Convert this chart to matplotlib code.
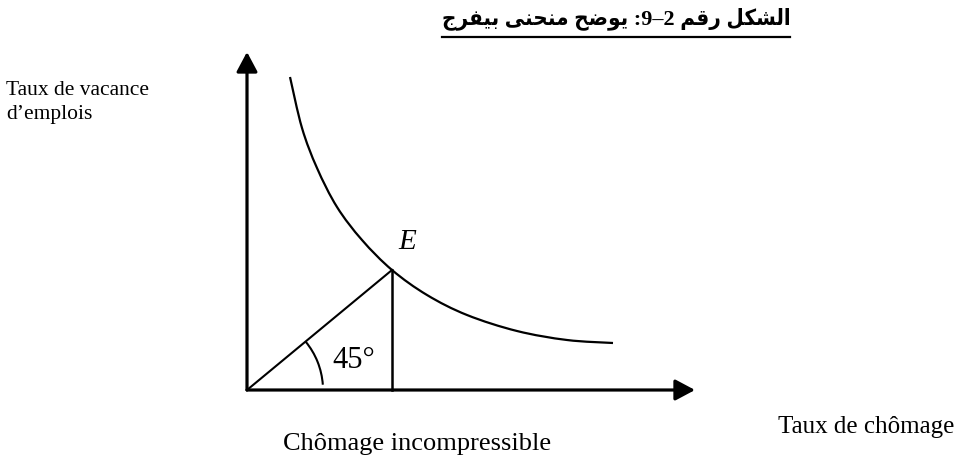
import matplotlib
matplotlib.use("Agg")
import matplotlib.pyplot as plt
from matplotlib.path import Path
from matplotlib.patches import PathPatch, Arc
from matplotlib.lines import Line2D

# Beveridge curve, points (x = unemployment, y = vacancies)
curve_x = [43, 55, 70, 90, 115, 145, 180, 220, 270, 320, 366]
curve_y = [313, 262, 222, 183, 150, 120, 95, 75, 59, 50, 47]
E_point = (145, 120)
x_axis_end = 448
y_axis_end = 338
arc_radius = 76

title_words = ["الشكل", "رقم", "2–9:", "يوضح", "منحنى", "بيفرج"]
ylabel_lines = ["Taux de vacance", "d’emplois"]
xlabel = "Taux de chômage"
foot_label = "Chômage incompressible"
angle_label = "45°"

# presentation forms: iso, fin, ini, med (right-joining letters have only iso, fin)
forms = {
    "ا": ("\uFE8D", "\uFE8E"),
    "ر": ("\uFEAD", "\uFEAE"),
    "و": ("\uFEED", "\uFEEE"),
    "ى": ("\uFEEF", "\uFEF0"),
    "ل": ("\uFEDD", "\uFEDE", "\uFEDF", "\uFEE0"),
    "ش": ("\uFEB5", "\uFEB6", "\uFEB7", "\uFEB8"),
    "ك": ("\uFED9", "\uFEDA", "\uFEDB", "\uFEDC"),
    "ق": ("\uFED5", "\uFED6", "\uFED7", "\uFED8"),
    "م": ("\uFEE1", "\uFEE2", "\uFEE3", "\uFEE4"),
    "ي": ("\uFEF1", "\uFEF2", "\uFEF3", "\uFEF4"),
    "ض": ("\uFEBD", "\uFEBE", "\uFEBF", "\uFEC0"),
    "ح": ("\uFEA1", "\uFEA2", "\uFEA3", "\uFEA4"),
    "ن": ("\uFEE5", "\uFEE6", "\uFEE7", "\uFEE8"),
    "ب": ("\uFE8F", "\uFE90", "\uFE91", "\uFE92"),
    "ف": ("\uFED1", "\uFED2", "\uFED3", "\uFED4"),
    "ج": ("\uFE9D", "\uFE9E", "\uFE9F", "\uFEA0"),
}


def shape(word):
    out = []
    for i, ch in enumerate(word):
        if ch not in forms:
            out.append(ch)
            continue
        f = forms[ch]
        prev = i > 0 and word[i - 1] in forms and len(forms[word[i - 1]]) == 4
        nxt = len(f) == 4 and i < len(word) - 1 and word[i + 1] in forms
        if prev and nxt:
            out.append(f[3])
        elif nxt:
            out.append(f[2])
        elif prev:
            out.append(f[1])
        else:
            out.append(f[0])
    return "".join(reversed(out))


title = " ".join(shape(w) for w in reversed(title_words))

fig = plt.figure(figsize=(9.69, 4.59), dpi=100)
ax = fig.add_axes([0, 0, 1, 1])
ax.set_xlim(-247, 722)
ax.set_ylim(-69, 390)
ax.axis("off")

serif = ["Liberation Serif", "DejaVu Serif"]

# axes with arrows
arr = dict(arrowstyle="-|>,head_length=0.6,head_width=0.32", lw=2.3,
           color="black", mutation_scale=20, shrinkA=0, shrinkB=0)
ax.annotate("", xy=(0, y_axis_end), xytext=(0, 0), arrowprops=arr)
ax.annotate("", xy=(x_axis_end, 0), xytext=(0, 0), arrowprops=arr)

# smooth curve through the read points (Catmull-Rom -> Bezier)
pts = list(zip(curve_x, curve_y))
verts = [pts[0]]
codes = [Path.MOVETO]
for i in range(len(pts) - 1):
    p0 = pts[i - 1] if i > 0 else pts[i]
    p1 = pts[i]
    p2 = pts[i + 1]
    p3 = pts[i + 2] if i + 2 < len(pts) else pts[i + 1]
    c1 = (p1[0] + (p2[0] - p0[0]) / 6, p1[1] + (p2[1] - p0[1]) / 6)
    c2 = (p2[0] - (p3[0] - p1[0]) / 6, p2[1] - (p3[1] - p1[1]) / 6)
    verts += [c1, c2, p2]
    codes += [Path.CURVE4] * 3
ax.add_patch(PathPatch(Path(verts, codes), fill=False, lw=1.6, color="black"))

# 45 degree line and vertical drop from E
ax.plot([0, E_point[0]], [0, E_point[1]], color="black", lw=1.5)
ax.plot([E_point[0], E_point[0]], [0, E_point[1]], color="black", lw=1.8)
ax.add_patch(Arc((0, 0), 2 * arc_radius, 2 * arc_radius, theta1=4, theta2=39.6,
                 lw=1.5, color="black"))

ax.text(160, 148, "E", family=serif, style="italic", fontsize=21,
        ha="center", va="center")
ax.text(107, 30, angle_label, family=serif, fontsize=22, ha="center", va="center")

ax.text(-241, 295, ylabel_lines[0], family=serif, fontsize=15.5, va="baseline")
ax.text(-241, 271, ylabel_lines[1], family=serif, fontsize=15.5, va="baseline")
ax.text(531, -43, xlabel, family=serif, fontsize=18, va="baseline")
ax.text(36, -60, foot_label, family=serif, fontsize=19, va="baseline")

t = ax.text(369, 371, title, family=["Liberation Serif", "DejaVu Sans"],
            fontweight="bold", fontstretch="condensed", fontsize=16,
            ha="center", va="center")

# underline for the title
fig.canvas.draw()
bb = t.get_window_extent().transformed(fig.transFigure.inverted())
fig.add_artist(Line2D([bb.x0, bb.x1], [1 - 37 / 459, 1 - 37 / 459],
                      transform=fig.transFigure, color="black", lw=1.6))

fig.savefig("out.png", dpi=100)
